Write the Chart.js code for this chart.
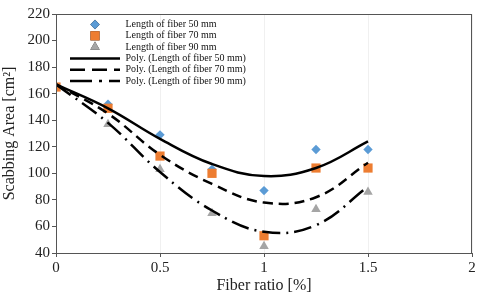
<!DOCTYPE html>
<html>
<head>
<meta charset="utf-8">
<script src="https://cdn.jsdelivr.net/npm/chart.js@4"></script>
<style>
  html, body { margin: 0; padding: 0; background: #fff; }
  #wrap { width: 480px; height: 295px; }
</style>
</head>
<body>
<div id="wrap"><canvas id="myChart" width="480" height="295"></canvas></div>
<script>
  // fiber ratio [%]
  const ratio = [0, 0.25, 0.5, 0.75, 1, 1.25, 1.5]
  // measured scabbing area [cm2]
  const len50 = [165, 152, 129, 103, 87, 118, 118]
  const len70 = [165, 149, 113, 100, 53, 104, 104]
  const len90 = [164, 137, 103, 70, 45, 73, 86]
  // poly trendlines
  const fitX = [0, 0.25, 0.5, 0.75, 1, 1.25, 1.5]
  const fit50 = [167, 149, 126, 107, 98, 104, 124]
  const fit70 = [167, 145, 114, 92, 78, 82, 108]
  const fit90 = [167, 138, 101, 72, 56, 61, 90]
  const xTicks = [0, 0.5, 1, 1.5, 2]
  const yTicks = [40, 60, 80, 100, 120, 140, 160, 180, 200, 220]

  const serif = "'Liberation Serif', 'Times New Roman', serif"

  const pts = (xs, ys) => xs.map((x, i) => ({x: x, y: ys[i]}))

  const legendItems = [
    {text: 'Length of fiber 50 mm', point: 'rectRot', color: '#5B9BD5', r: 4.7},
    {text: 'Length of fiber 70 mm', point: 'rect', color: '#ED7D31', r: 6.5},
    {text: 'Length of fiber 90 mm', point: 'triangle', color: '#A5A5A5', r: 5.5},
    {text: 'Poly. (Length of fiber 50 mm)', dash: []},
    {text: 'Poly. (Length of fiber 70 mm)', dash: [15, 7]},
    {text: 'Poly. (Length of fiber 90 mm)', dash: [22, 7, 3, 7]}
  ]

  const frameAndLegend = {
    id: 'frameAndLegend',
    afterDraw(chart) {
      const c = chart.ctx
      const a = chart.chartArea
      c.save()
      c.strokeStyle = '#555'
      c.lineWidth = 1
      c.strokeRect(a.left + 0.5, a.top + 0.5, a.right - a.left - 1, a.bottom - a.top)
      let y = 24.5
      for (const it of legendItems) {
        if (it.point) {
          Chart.helpers.drawPoint(c, {pointStyle: it.point, radius: it.r, borderWidth: 0}, 95, y)
          c.fillStyle = it.color
          c.fill()
        } else {
          c.beginPath()
          c.setLineDash(it.dash)
          c.strokeStyle = '#000'
          c.lineWidth = 2.5
          c.moveTo(70, y)
          c.lineTo(120, y)
          c.stroke()
          c.setLineDash([])
        }
        c.fillStyle = '#111'
        c.font = '10px ' + serif
        c.textBaseline = 'middle'
        c.textAlign = 'left'
        c.fillText(it.text, 125.5, y)
        y += 11.3
      }
      c.restore()
    }
  }

  const ctx = document.getElementById('myChart')

  new Chart(ctx, {
    type: 'scatter',
    data: {
      datasets: [
        {label: 'Poly. (Length of fiber 50 mm)', data: pts(fitX, fit50), showLine: true, pointRadius: 0,
          borderColor: '#000', borderWidth: 2.5, tension: 0.4, order: 0},
        {label: 'Poly. (Length of fiber 70 mm)', data: pts(fitX, fit70), showLine: true, pointRadius: 0,
          borderColor: '#000', borderWidth: 2.5, borderDash: [10, 6], tension: 0.4, order: 0},
        {label: 'Poly. (Length of fiber 90 mm)', data: pts(fitX, fit90), showLine: true, pointRadius: 0,
          borderColor: '#000', borderWidth: 2.5, borderDash: [18, 6, 2, 6], tension: 0.4, order: 0},
        {label: 'Length of fiber 50 mm', data: pts(ratio, len50), pointStyle: 'rectRot', pointRadius: 4.7,
          backgroundColor: '#5B9BD5', borderWidth: 0, order: 2},
        {label: 'Length of fiber 70 mm', data: pts(ratio, len70), pointStyle: 'rect', pointRadius: 6.5,
          backgroundColor: '#ED7D31', borderWidth: 0, order: 1},
        {label: 'Length of fiber 90 mm', data: pts(ratio, len90), pointStyle: 'triangle', pointRadius: 5.5,
          backgroundColor: '#A5A5A5', borderWidth: 0, order: 3}
      ]
    },
    options: {
      responsive: false,
      animation: false,
      layout: {padding: {top: 14, right: 8, left: 0, bottom: 0}},
      plugins: {legend: {display: false}, tooltip: {enabled: false}},
      scales: {
        x: {
          type: 'linear', min: 0, max: 2,
          afterBuildTicks: s => { s.ticks = xTicks.map(v => ({value: v})) },
          afterFit: s => { s.height = 42 },
          ticks: {color: '#222', font: {family: serif, size: 15}, padding: 2, callback: v => String(v)},
          grid: {color: '#f0f0f0', tickColor: '#555', tickLength: 4},
          border: {display: false},
          title: {display: true, text: 'Fiber ratio [%]', color: '#222', font: {family: serif, size: 16}, padding: 0}
        },
        y: {
          min: 40, max: 220,
          afterBuildTicks: s => { s.ticks = yTicks.map(v => ({value: v})) },
          afterFit: s => { s.width = 56 },
          ticks: {color: '#222', font: {family: serif, size: 15}, padding: 2, callback: v => String(v)},
          grid: {drawOnChartArea: false, tickColor: '#555', tickLength: 4},
          border: {display: false},
          title: {display: true, text: 'Scabbing Area [cm²]', color: '#222', font: {family: serif, size: 16}, padding: 0}
        }
      }
    },
    plugins: [frameAndLegend]
  });
</script>
</body>
</html>
